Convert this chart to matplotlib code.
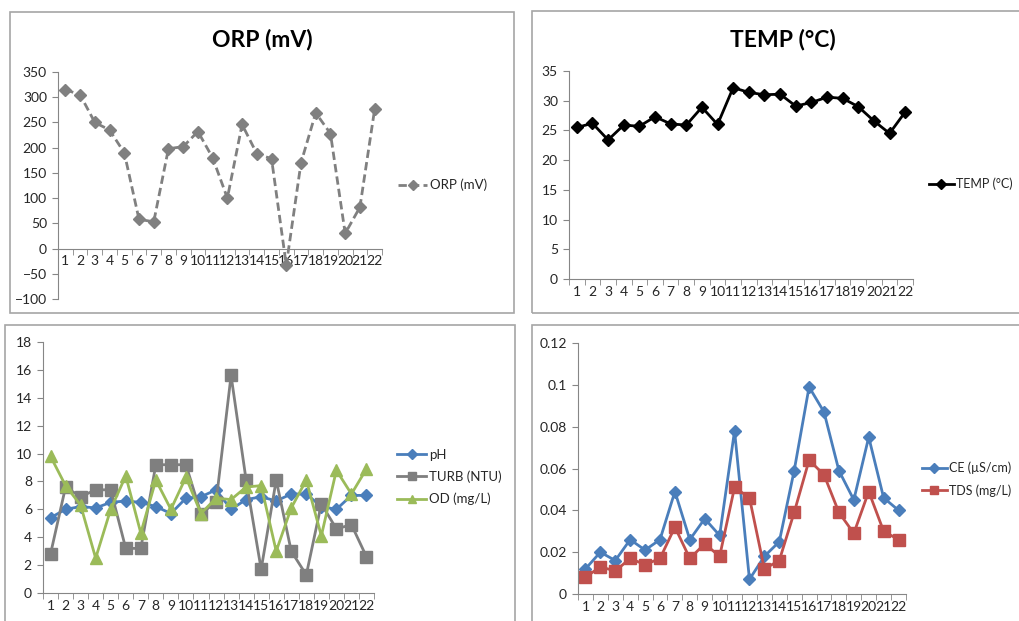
import numpy as np
import matplotlib
matplotlib.use('Agg')
import matplotlib.pyplot as plt
from matplotlib.patches import Rectangle

plt.rcParams['font.family'] = ['Lato', 'DejaVu Sans']

# ── Data ─────────────────────────────────────────────────────────
sites = list(range(1, 23))
orp = [315, 305, 250, 235, 190, 58, 53, 198, 202, 232, 180, 100,
       246, 188, 178, -33, 170, 269, 228, 30, 82, 276]
temp = [25.5, 26.2, 23.4, 25.9, 25.7, 27.3, 26.1, 25.9, 28.9, 26.0, 32.2,
        31.4, 31.0, 31.1, 29.1, 29.7, 30.6, 30.4, 29.0, 26.6, 24.5, 28.1]
ph = [5.4, 6.0, 6.2, 6.1, 6.5, 6.6, 6.5, 6.2, 5.7, 6.8, 6.9, 7.4,
      6.0, 6.7, 6.9, 6.6, 7.1, 7.1, 6.2, 6.0, 7.0, 7.0]
turb = [2.8, 7.6, 6.9, 7.4, 7.4, 3.2, 3.2, 9.2, 9.2, 9.2, 5.7, 6.5,
        15.6, 8.1, 1.7, 8.1, 3.0, 1.3, 6.4, 4.6, 4.9, 2.6]
od = [9.8, 7.7, 6.3, 2.5, 6.0, 8.4, 4.3, 8.1, 6.0, 8.3, 5.7, 6.8,
      6.7, 7.6, 7.7, 3.0, 6.1, 8.1, 4.1, 8.8, 7.1, 8.9]
ce = [0.012, 0.020, 0.016, 0.026, 0.021, 0.026, 0.049, 0.026, 0.036, 0.028,
      0.078, 0.007, 0.018, 0.025, 0.059, 0.099, 0.087, 0.059, 0.045, 0.075,
      0.046, 0.040]
tds = [0.008, 0.013, 0.011, 0.017, 0.014, 0.017, 0.032, 0.017, 0.024, 0.018,
       0.051, 0.046, 0.012, 0.016, 0.039, 0.064, 0.057, 0.039, 0.029, 0.049,
       0.030, 0.026]

W, H = 1020, 621
fig = plt.figure(figsize=(W / 100, H / 100), dpi=100)


def px_axes(x0, y0, x1, y1):
    # pixel box (top-left origin) -> figure axes
    return fig.add_axes([x0 / W, 1 - y1 / H, (x1 - x0) / W, (y1 - y0) / H])


def frame(x0, y0, x1, y1):
    fig.patches.append(Rectangle((x0 / W, 1 - y1 / H), (x1 - x0) / W, (y1 - y0) / H,
                                 transform=fig.transFigure, fill=False,
                                 edgecolor='#a6a6a6', lw=1.2))


def style(ax, ylim, yticks, fmt=None):
    ax.set_xlim(0.5, 22.5)
    ax.set_ylim(*ylim)
    ax.set_yticks(yticks)
    if fmt:
        ax.set_yticklabels([fmt(v) for v in yticks])
    ax.set_xticks(sites)
    ax.set_xticklabels([str(s) for s in sites])
    ax.set_xticks(np.arange(0.5, 23, 1), minor=True)
    ax.tick_params(axis='x', which='major', length=0, pad=5, labelsize=10, colors='#262626')
    ax.tick_params(axis='x', which='minor', length=4, direction='out', color='#868686')
    ax.tick_params(axis='y', length=4, direction='out', color='#868686',
                   labelsize=10, labelcolor='#262626', pad=4)
    for s in ['top', 'right']:
        ax.spines[s].set_visible(False)
    for s in ['left', 'bottom']:
        ax.spines[s].set_color('#868686')
    ax.patch.set_alpha(0)


def leg(ax, x, y, spacing=0.9, size=9.5, hl=2.2):
    ax.legend(loc='center left', bbox_to_anchor=(x / W, 1 - y / H),
              bbox_transform=fig.transFigure, frameon=False, fontsize=size,
              handlelength=hl, handletextpad=0.2, labelspacing=spacing,
              labelcolor='#262626', borderaxespad=0, borderpad=0, markerscale=0.8)


# panel frames
frame(10, 12, 514, 313)
frame(532, 11, 1030, 313)
frame(5, 325, 515, 630)
frame(532, 325, 1030, 630)

# ── ORP ──
ax1 = px_axes(58, 72, 382, 299)
ax1.plot(sites, orp, color='#808080', lw=2, ls=(0, (3, 1.5)), marker='D', ms=6,
         label='ORP (mV)')
style(ax1, (-100, 350), range(-100, 351, 50))
ax1.spines['bottom'].set_position(('data', 0))
fig.text(262 / W, 1 - 40 / H, 'ORP (mV)', ha='center', va='center',
         fontsize=16.5, fontweight='bold')
leg(ax1, 398, 185)

# ── TEMP ──
ax2 = px_axes(569, 71, 913, 279)
ax2.plot(sites, temp, color='black', lw=2, marker='D', ms=6, label='TEMP (°C)')
style(ax2, (0, 35), range(0, 36, 5))
fig.text(783 / W, 1 - 40 / H, 'TEMP (°C)', ha='center', va='center',
         fontsize=16.5, fontweight='bold')
leg(ax2, 929, 184, size=9, hl=2.0)

# ── pH / TURB / OD ──
ax3 = px_axes(43, 342, 374, 593)
ax3.plot(sites, ph, color='#4a7ebb', lw=2, marker='D', ms=6, label='pH')
ax3.plot(sites, turb, color='#7f7f7f', lw=2, marker='s', ms=8, label='TURB (NTU)')
ax3.plot(sites, od, color='#9bbb59', lw=2, marker='^', ms=8, label='OD (mg/L)')
style(ax3, (0, 18), range(0, 19, 2))
leg(ax3, 397, 477, spacing=0.75)

# ── CE / TDS ──
ax4 = px_axes(578, 343, 906, 594)
ax4.plot(sites, ce, color='#4a7ebb', lw=2, marker='D', ms=6, label='CE (µS/cm)')
ax4.plot(sites, tds, color='#c0504d', lw=2, marker='s', ms=8, label='TDS (mg/L)')
style(ax4, (0, 0.12), np.arange(0, 0.121, 0.02),
      fmt=lambda v: '0' if v == 0 else ('%.2f' % v).rstrip('0'))
leg(ax4, 922, 479, spacing=0.8, size=9, hl=2.0)

fig.savefig('out.png', dpi=100)
